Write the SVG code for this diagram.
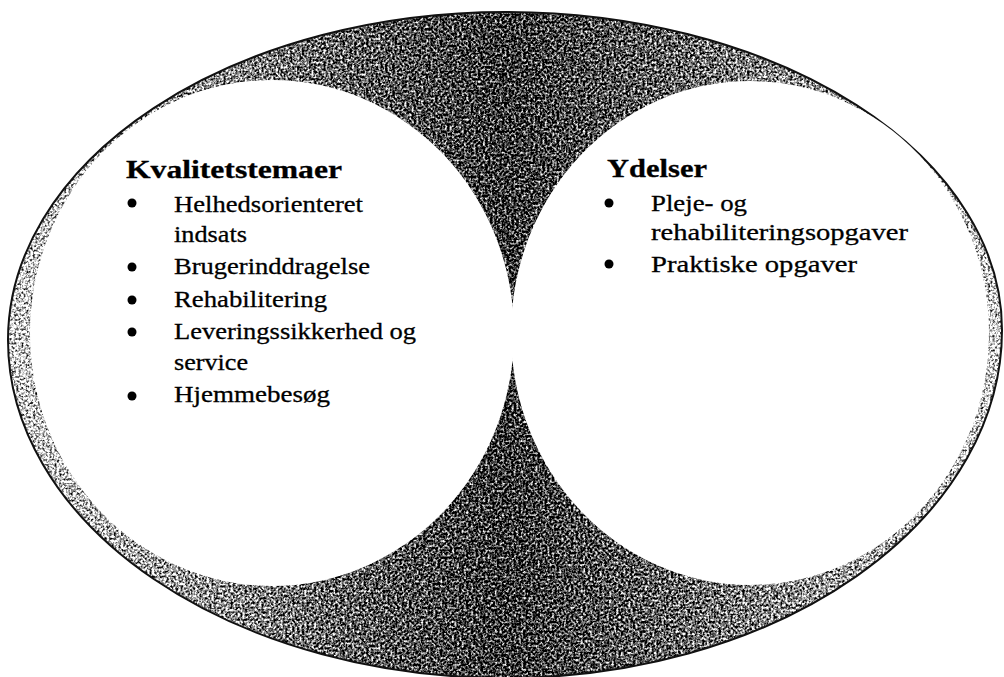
<svg xmlns="http://www.w3.org/2000/svg" width="1004" height="677" viewBox="0 0 1004 677">
<style>
.t{font-size:24px;fill:#000;stroke:#000;stroke-width:0.3}
.h{font-weight:bold;font-size:25px}
.b{fill:#000}
.inner{fill:#fff}
</style>
<defs>
<linearGradient id="shade" x1="0" y1="0" x2="1" y2="0">
<stop offset="0" stop-color="#d2d2d2"/>
<stop offset="0.15" stop-color="#a4a4a4"/>
<stop offset="0.32" stop-color="#666"/>
<stop offset="0.5" stop-color="#333"/>
<stop offset="0.68" stop-color="#666"/>
<stop offset="0.85" stop-color="#a4a4a4"/>
<stop offset="1" stop-color="#d2d2d2"/>
</linearGradient>
<filter id="grain" x="0" y="0" width="1" height="1" color-interpolation-filters="sRGB">
<feTurbulence type="fractalNoise" baseFrequency="0.42" numOctaves="2" seed="4" result="t"/>
<feColorMatrix in="t" type="matrix" values="1 0 0 0 0 1 0 0 0 0 1 0 0 0 0 0 0 0 0 1" result="g"/>
<feComposite in="SourceGraphic" in2="g" operator="arithmetic" k1="0" k2="1" k3="2.6" k4="-1.3" result="c"/>
<feComposite in="c" in2="SourceGraphic" operator="in"/>
</filter>
</defs>
<rect width="1004" height="677" fill="#fff"/>
<g id="outer">
<path d="M8,340 A497.5,328 0 0 1 505.5,12 A496.5,318 0 0 1 1002,330 A496.5,348 0 0 1 505.5,678 A497.5,338 0 0 1 8,340 Z" fill="url(#shade)" filter="url(#grain)"/>
<path d="M8,340 A497.5,328 0 0 1 505.5,12 A496.5,318 0 0 1 1002,330 A496.5,348 0 0 1 505.5,678 A497.5,338 0 0 1 8,340 Z" fill="none" stroke="#111" stroke-width="2"/>
</g>
<g id="connectors"/>
<g id="node-kvalitetstemaer" font-family="'Liberation Serif', 'Times New Roman', serif">
<ellipse class="inner" cx="272" cy="333" rx="242" ry="253"/>
<text class="t h" x="126" y="178" textLength="216" lengthAdjust="spacingAndGlyphs">Kvalitetstemaer</text>
<circle class="b" cx="132" cy="203" r="4.5"/>
<text class="t" x="174" y="212" textLength="189" lengthAdjust="spacingAndGlyphs">Helhedsorienteret</text>
<text class="t" x="174" y="242" textLength="73" lengthAdjust="spacingAndGlyphs">indsats</text>
<circle class="b" cx="132" cy="267" r="4.5"/>
<text class="t" x="174" y="274" textLength="196" lengthAdjust="spacingAndGlyphs">Brugerinddragelse</text>
<circle class="b" cx="132" cy="300" r="4.5"/>
<text class="t" x="174" y="307" textLength="153" lengthAdjust="spacingAndGlyphs">Rehabilitering</text>
<circle class="b" cx="132" cy="332" r="4.5"/>
<text class="t" x="174" y="339" textLength="242" lengthAdjust="spacingAndGlyphs">Leveringssikkerhed og</text>
<text class="t" x="174" y="370" textLength="74" lengthAdjust="spacingAndGlyphs">service</text>
<circle class="b" cx="132" cy="396" r="4.5"/>
<text class="t" x="174" y="402" textLength="156" lengthAdjust="spacingAndGlyphs">Hjemmebesøg</text>
</g>
<g id="node-ydelser" font-family="'Liberation Serif', 'Times New Roman', serif">
<ellipse class="inner" cx="750" cy="333" rx="239" ry="252"/>
<text class="t h" x="607" y="177" textLength="100" lengthAdjust="spacingAndGlyphs">Ydelser</text>
<circle class="b" cx="609" cy="203" r="4.5"/>
<text class="t" x="651" y="211" textLength="96" lengthAdjust="spacingAndGlyphs">Pleje- og</text>
<text class="t" x="651" y="240" textLength="257" lengthAdjust="spacingAndGlyphs">rehabiliteringsopgaver</text>
<circle class="b" cx="609" cy="264" r="4.5"/>
<text class="t" x="651" y="272" textLength="206" lengthAdjust="spacingAndGlyphs">Praktiske opgaver</text>
</g>
</svg>
